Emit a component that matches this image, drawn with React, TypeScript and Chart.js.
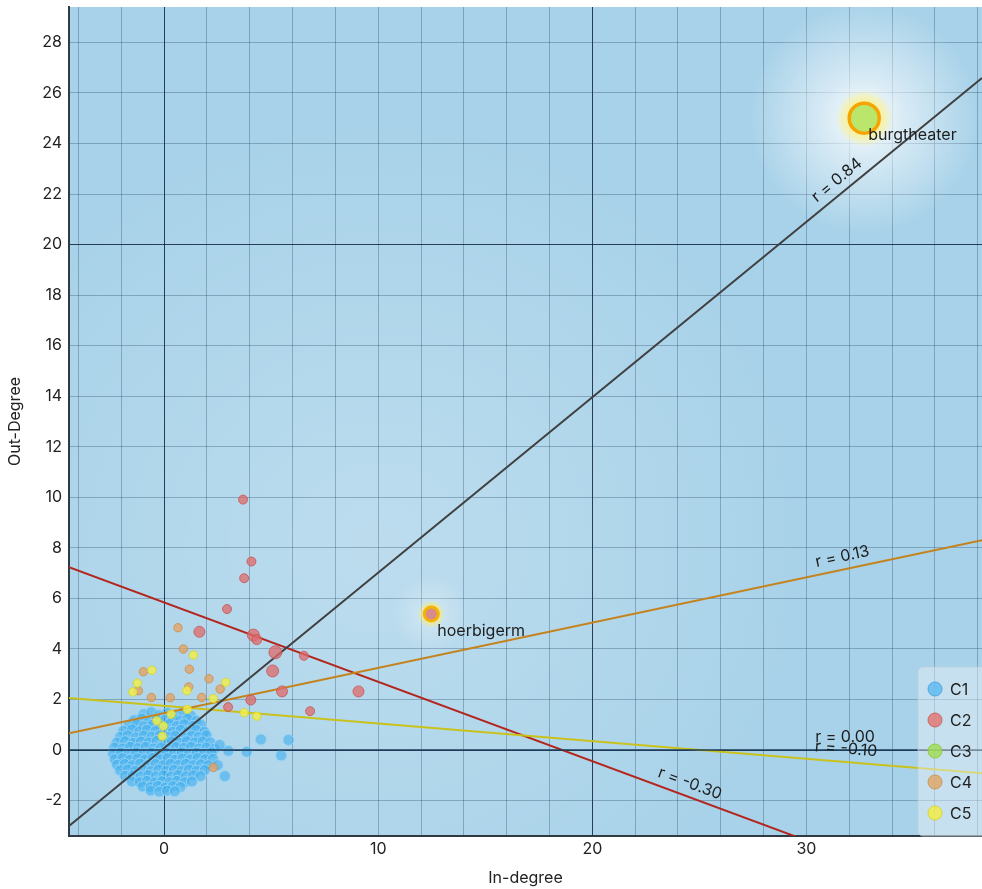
import { useEffect, useRef } from 'react';
import { Chart, registerables } from 'chart.js';

Chart.register(...registerables);

const FONT = "Inter, 'Liberation Sans', Arial, sans-serif";

// axis ranges and ticks
const xRange = [-4.44, 38.2];
const yRange = [-3.4, 29.4];
const xGridValues = [-4, -2, 0, 2, 4, 6, 8, 10, 12, 14, 16, 18, 20, 22, 24, 26, 28, 30, 32, 34, 36, 38];
const xTickLabels = [0, 10, 20, 30];
const yGridValues = [-2, 0, 2, 4, 6, 8, 10, 12, 14, 16, 18, 20, 22, 24, 26, 28];
const majorGrid = [0, 20];

// categories
const categories = ['C1', 'C2', 'C3', 'C4', 'C5'];

// C1: dense cluster around the origin plus a few outliers
const c1Points: [number, number][] = [
  [-0.95, 1.42], [-0.6, 1.5], [-0.25, 1.38], [0.15, 1.47], [0.5, 1.4], [0.9, 1.52], [1.25, 1.36],
  [-1.4, 1.18], [-1.05, 1.25], [-0.7, 1.15], [-0.35, 1.22], [0.05, 1.2], [0.4, 1.27], [0.75, 1.17], [1.1, 1.24], [1.5, 1.15],
  [-1.65, 0.98], [-1.3, 1.02], [-0.95, 0.94], [-0.55, 1.0], [-0.2, 0.97], [0.25, 1.03], [0.6, 0.95], [0.95, 1.02], [1.35, 0.96], [1.72, 1.0],
  [-1.9, 0.76], [-1.5, 0.82], [-1.15, 0.74], [-0.8, 0.8], [-0.4, 0.75], [0.05, 0.8], [0.4, 0.72], [0.78, 0.8], [1.12, 0.74], [1.5, 0.8], [1.88, 0.72],
  [-2.05, 0.52], [-1.7, 0.58], [-1.32, 0.5], [-0.95, 0.57], [-0.58, 0.53], [-0.2, 0.58], [0.18, 0.52], [0.52, 0.57], [0.9, 0.5], [1.28, 0.56], [1.62, 0.52], [1.98, 0.58],
  [-2.2, 0.3], [-1.82, 0.35], [-1.45, 0.28], [-1.08, 0.34], [-0.72, 0.3], [-0.35, 0.36], [0.0, 0.3], [0.36, 0.34], [0.72, 0.28], [1.06, 0.35], [1.42, 0.3], [1.8, 0.34], [2.15, 0.3],
  [-2.32, 0.1], [-1.95, 0.06], [-1.58, 0.13], [-1.22, 0.08], [-0.86, 0.12], [-0.5, 0.06], [-0.14, 0.1], [0.22, 0.05], [0.56, 0.12], [0.92, 0.08], [1.26, 0.13], [1.62, 0.06], [1.98, 0.1], [2.35, 0.05],
  [-2.38, -0.14], [-2.02, -0.1], [-1.66, -0.15], [-1.3, -0.09], [-0.95, -0.14], [-0.6, -0.1], [-0.24, -0.15], [0.12, -0.1], [0.46, -0.14], [0.82, -0.09], [1.16, -0.15], [1.52, -0.1], [1.86, -0.14], [2.22, -0.09],
  [-2.3, -0.36], [-1.94, -0.32], [-1.6, -0.38], [-1.24, -0.33], [-0.88, -0.37], [-0.54, -0.31], [-0.18, -0.36], [0.16, -0.32], [0.52, -0.38], [0.86, -0.33], [1.22, -0.37], [1.56, -0.32], [1.92, -0.36], [2.28, -0.34],
  [-2.2, -0.58], [-1.84, -0.55], [-1.48, -0.6], [-1.12, -0.54], [-0.76, -0.59], [-0.4, -0.55], [-0.04, -0.6], [0.3, -0.55], [0.66, -0.59], [1.02, -0.54], [1.36, -0.6], [1.72, -0.56], [2.06, -0.6],
  [-2.05, -0.8], [-1.7, -0.77], [-1.35, -0.82], [-0.98, -0.78], [-0.62, -0.83], [-0.26, -0.77], [0.1, -0.82], [0.46, -0.78], [0.8, -0.83], [1.16, -0.77], [1.52, -0.82], [1.9, -0.79],
  [-1.82, -1.02], [-1.46, -1.0], [-1.1, -1.05], [-0.74, -0.99], [-0.38, -1.04], [-0.02, -1.0], [0.32, -1.05], [0.66, -0.99], [1.02, -1.04], [1.36, -1.0], [1.7, -1.03],
  [-1.5, -1.24], [-1.14, -1.27], [-0.8, -1.22], [-0.44, -1.28], [-0.1, -1.23], [0.26, -1.27], [0.6, -1.22], [0.96, -1.27], [1.3, -1.24],
  [-1.0, -1.44], [-0.64, -1.47], [-0.3, -1.42], [0.06, -1.48], [0.4, -1.43], [0.76, -1.46],
  [-0.62, -1.6], [-0.22, -1.64], [0.14, -1.6], [0.5, -1.63],
  [4.52, 0.42], [5.81, 0.4], [3.0, -0.03], [3.86, -0.07], [5.47, -0.21], [2.84, -1.03], [2.6, 0.2], [2.5, -0.6],
];

// C2 (last one is "hoerbigerm")
const c2Points: [number, number][] = [
  [3.69, 9.91], [4.08, 7.46], [3.74, 6.8], [2.94, 5.58], [1.65, 4.68], [4.17, 4.55], [4.33, 4.37],
  [5.2, 3.87], [6.53, 3.73], [5.07, 3.13], [5.51, 2.32], [9.08, 2.32], [4.05, 1.98], [2.99, 1.7], [6.82, 1.54],
  [12.48, 5.38],
];
const c2Radius = [4.5, 4.5, 4.5, 4.5, 5.5, 6, 5, 6.5, 4.5, 6, 5.5, 5.5, 5, 4.5, 4.5, 7];

// C3 ("burgtheater")
const c3Points: [number, number][] = [[32.7, 25.0]];

// C4
const c4Points: [number, number][] = [
  [0.65, 4.84], [0.9, 4.0], [1.18, 3.2], [-0.97, 3.1], [2.1, 2.82], [1.15, 2.5], [2.62, 2.41],
  [-1.2, 2.35], [-0.59, 2.08], [0.29, 2.07], [1.76, 2.08], [2.3, -0.69],
];

// C5
const c5Points: [number, number][] = [
  [1.37, 3.76], [-0.57, 3.16], [-1.25, 2.65], [-1.46, 2.3], [2.88, 2.68], [1.06, 2.35], [2.3, 2.04],
  [1.09, 1.61], [0.33, 1.42], [3.74, 1.48], [4.33, 1.34], [-0.34, 1.16], [-0.03, 0.95], [-0.08, 0.55],
];

// named points
const namedLabels = ['burgtheater', 'hoerbigerm'];
const namedPoints: [number, number][] = [[32.7, 25.0], [12.48, 5.38]];

// regression lines
const regLabels = ['r = 0.84', 'r = 0.13', 'r = 0.00', 'r = -0.10', 'r = -0.30'];
const regSlopes = [0.694, 0.179, 0, -0.0697, -0.314];
const regIntercepts = [0.08, 1.46, 0, 1.75, 5.84];
const regColors = ['#3f3f3f', '#c4831d', '#1c3b5a', '#c9c21c', '#b3261e'];
const regWidths = [2, 2, 1.5, 2, 2];

const catFill = ['rgba(68,176,238,0.62)', 'rgba(222,105,105,0.75)', '#b9e66b', 'rgba(228,160,95,0.75)', 'rgba(242,240,70,0.8)'];
const catBorder = ['rgba(150,212,248,0.9)', 'rgba(200,85,85,0.8)', '#f6a500', 'rgba(205,140,70,0.8)', 'rgba(215,210,40,0.85)'];
const legendFill = ['rgba(90,185,240,0.8)', 'rgba(225,115,110,0.8)', 'rgba(160,220,80,0.8)', 'rgba(225,165,100,0.8)', 'rgba(240,236,70,0.85)'];
const legendBorder = ['rgba(70,165,225,0.9)', 'rgba(205,95,90,0.9)', 'rgba(140,200,60,0.9)', 'rgba(205,145,80,0.9)', 'rgba(215,210,40,0.9)'];

const toXY = (pts: [number, number][]) => pts.map(([x, y]) => ({ x, y }));

function labelAnchor(m: number, b: number) {
  let lo = xRange[0];
  let hi = xRange[1];
  if (m !== 0) {
    const xa = (yRange[0] - b) / m;
    const xb = (yRange[1] - b) / m;
    lo = Math.max(lo, Math.min(xa, xb));
    hi = Math.min(hi, Math.max(xa, xb));
  }
  return lo + 0.85 * (hi - lo);
}

const zeroPad = (s: any) => {
  s.paddingTop = 0;
  s.paddingBottom = 0;
  s.paddingLeft = 0;
  s.paddingRight = 0;
};

const decorPlugin = {
  id: 'decor',
  beforeDraw(chart: any) {
    const { ctx, chartArea: a, scales } = chart;
    const x = scales.x, y = scales.y;
    ctx.save();
    ctx.fillStyle = '#a8d2e9';
    ctx.fillRect(a.left, a.top, a.right - a.left, a.bottom - a.top);
    const cx = x.getPixelForValue(10), cy = y.getPixelForValue(8);
    const g = ctx.createRadialGradient(cx, cy, 0, cx, cy, 430);
    g.addColorStop(0, 'rgba(255,255,255,0.24)');
    g.addColorStop(1, 'rgba(255,255,255,0)');
    ctx.fillStyle = g;
    ctx.fillRect(a.left, a.top, a.right - a.left, a.bottom - a.top);
    ctx.restore();
  },
  beforeDatasetsDraw(chart: any) {
    const { ctx, chartArea: a, scales } = chart;
    const x = scales.x, y = scales.y;
    ctx.save();
    ctx.beginPath();
    ctx.rect(a.left, a.top, a.right - a.left, a.bottom - a.top);
    ctx.clip();
    const bx = x.getPixelForValue(namedPoints[0][0]);
    const by = y.getPixelForValue(namedPoints[0][1]);
    let g = ctx.createRadialGradient(bx, by, 0, bx, by, 115);
    g.addColorStop(0, 'rgba(255,255,255,0.95)');
    g.addColorStop(0.35, 'rgba(255,255,255,0.55)');
    g.addColorStop(1, 'rgba(255,255,255,0)');
    ctx.fillStyle = g;
    ctx.fillRect(bx - 120, by - 120, 240, 240);
    g = ctx.createRadialGradient(bx, by, 0, bx, by, 29);
    g.addColorStop(0, 'rgba(255,240,110,0.8)');
    g.addColorStop(0.65, 'rgba(255,240,110,0.55)');
    g.addColorStop(1, 'rgba(255,240,110,0)');
    ctx.fillStyle = g;
    ctx.beginPath();
    ctx.arc(bx, by, 29, 0, Math.PI * 2);
    ctx.fill();
    const hx = x.getPixelForValue(namedPoints[1][0]);
    const hy = y.getPixelForValue(namedPoints[1][1]);
    g = ctx.createRadialGradient(hx, hy, 0, hx, hy, 40);
    g.addColorStop(0, 'rgba(255,255,255,0.35)');
    g.addColorStop(1, 'rgba(255,255,255,0)');
    ctx.fillStyle = g;
    ctx.beginPath();
    ctx.arc(hx, hy, 40, 0, Math.PI * 2);
    ctx.fill();
    g = ctx.createRadialGradient(hx, hy, 0, hx, hy, 14);
    g.addColorStop(0, 'rgba(255,235,100,0.7)');
    g.addColorStop(0.7, 'rgba(255,235,100,0.5)');
    g.addColorStop(1, 'rgba(255,235,100,0)');
    ctx.fillStyle = g;
    ctx.beginPath();
    ctx.arc(hx, hy, 14, 0, Math.PI * 2);
    ctx.fill();
    ctx.restore();
  },
  afterDatasetsDraw(chart: any) {
    const { ctx, chartArea: a, scales } = chart;
    const x = scales.x, y = scales.y;
    ctx.save();
    // legend
    const lw = 80, lh = 169;
    const lx = a.right - 64, ly = a.bottom - lh;
    ctx.beginPath();
    ctx.roundRect(lx, ly, lw, lh, 5);
    ctx.fillStyle = 'rgba(235,242,248,0.45)';
    ctx.fill();
    ctx.strokeStyle = 'rgba(190,205,215,0.7)';
    ctx.lineWidth = 1;
    ctx.stroke();
    ctx.font = `16px ${FONT}`;
    ctx.textBaseline = 'middle';
    ctx.textAlign = 'left';
    categories.forEach((c, i) => {
      const cy = ly + 22 + i * 31;
      ctx.beginPath();
      ctx.arc(lx + 17, cy, 7, 0, Math.PI * 2);
      ctx.fillStyle = legendFill[i];
      ctx.fill();
      ctx.strokeStyle = legendBorder[i];
      ctx.lineWidth = 1;
      ctx.stroke();
      ctx.fillStyle = '#222';
      ctx.fillText(c, lx + 32, cy + 1);
    });
    // regression labels
    ctx.fillStyle = '#1e1e1e';
    ctx.font = `16px ${FONT}`;
    ctx.textAlign = 'center';
    ctx.textBaseline = 'middle';
    regLabels.forEach((lab, i) => {
      const m = regSlopes[i], b = regIntercepts[i];
      const ax = labelAnchor(m, b);
      const px = x.getPixelForValue(ax), py = y.getPixelForValue(m * ax + b);
      const qx = x.getPixelForValue(ax + 1), qy = y.getPixelForValue(m * (ax + 1) + b);
      const ang = Math.atan2(qy - py, qx - px);
      ctx.save();
      ctx.translate(px, py);
      ctx.rotate(ang);
      ctx.fillText(lab, 0, -13);
      ctx.restore();
    });
    // named points
    ctx.textAlign = 'left';
    namedLabels.forEach((lab, i) => {
      const px = x.getPixelForValue(namedPoints[i][0]);
      const py = y.getPixelForValue(namedPoints[i][1]);
      ctx.fillText(lab, px + (i === 0 ? 4 : 6), py + 17);
    });
    ctx.restore();
  },
};

export default function App() {
  const ref = useRef<HTMLCanvasElement | null>(null);
  useEffect(() => {
    if (!ref.current) return;
    const lineSets = regLabels.map((lab, i) => ({
      type: 'scatter' as const,
      label: lab,
      data: [
        { x: xRange[0], y: regSlopes[i] * xRange[0] + regIntercepts[i] },
        { x: xRange[1], y: regSlopes[i] * xRange[1] + regIntercepts[i] },
      ],
      showLine: true,
      borderColor: regColors[i],
      borderWidth: regWidths[i],
      pointRadius: 0,
      tension: 0,
    }));
    const hIdx = c2Points.length - 1;
    const chart = new Chart(ref.current, {
      type: 'scatter',
      data: {
        datasets: [
          {
            label: 'C3',
            data: toXY(c3Points),
            backgroundColor: catFill[2],
            borderColor: catBorder[2],
            borderWidth: 3.5,
            pointRadius: 15,
          },
          {
            label: 'C2',
            data: toXY(c2Points),
            backgroundColor: c2Points.map((_, i) => (i === hIdx ? '#d98a8c' : catFill[1])),
            borderColor: c2Points.map((_, i) => (i === hIdx ? '#f5b300' : catBorder[1])),
            borderWidth: c2Points.map((_, i) => (i === hIdx ? 3 : 1)),
            pointRadius: c2Radius,
          },
          {
            label: 'C5',
            data: toXY(c5Points),
            backgroundColor: catFill[4],
            borderColor: catBorder[4],
            borderWidth: 1,
            pointRadius: 4.2,
          },
          {
            label: 'C4',
            data: toXY(c4Points),
            backgroundColor: catFill[3],
            borderColor: catBorder[3],
            borderWidth: 1,
            pointRadius: 4.2,
          },
          ...lineSets,
          {
            label: 'C1',
            data: toXY(c1Points),
            backgroundColor: catFill[0],
            borderColor: catBorder[0],
            borderWidth: 1,
            pointRadius: 5.5,
          },
        ] as any,
      },
      options: {
        animation: false,
        responsive: true,
        maintainAspectRatio: false,
        events: [],
        layout: { autoPadding: false, padding: { top: 7, right: 0, left: 0, bottom: 0 } },
        plugins: { legend: { display: false }, tooltip: { enabled: false } },
        scales: {
          x: {
            type: 'linear',
            min: xRange[0],
            max: xRange[1],
            afterBuildTicks: (s: any) => {
              s.ticks = xGridValues.map((v) => ({ value: v }));
            },
            afterFit: (s: any) => {
              s.height = 53;
              zeroPad(s);
            },
            ticks: {
              autoSkip: false,
              maxRotation: 0,
              padding: 4,
              color: '#222',
              font: { family: FONT, size: 16 },
              callback: (v: any) => (xTickLabels.includes(Number(v)) ? String(v) : ''),
            },
            grid: {
              drawTicks: false,
              color: (c: any) => (majorGrid.includes(c.tick?.value) ? 'rgba(15,35,60,0.85)' : 'rgba(25,55,85,0.3)'),
              lineWidth: 1,
            },
            border: { display: true, color: '#2f3a42', width: 2 },
            title: {
              display: true,
              text: 'In-degree',
              color: '#222',
              font: { family: FONT, size: 16 },
              padding: { top: 4, bottom: 1.5 },
            },
          },
          y: {
            type: 'linear',
            min: yRange[0],
            max: yRange[1],
            afterBuildTicks: (s: any) => {
              s.ticks = yGridValues.map((v) => ({ value: v }));
            },
            afterFit: (s: any) => {
              s.width = 69;
              zeroPad(s);
            },
            ticks: {
              autoSkip: false,
              padding: 7,
              color: '#222',
              font: { family: FONT, size: 16 },
              callback: (v: any) => String(v),
            },
            grid: {
              drawTicks: false,
              color: (c: any) => (majorGrid.includes(c.tick?.value) ? 'rgba(15,35,60,0.85)' : 'rgba(25,55,85,0.3)'),
              lineWidth: 1,
            },
            border: { display: true, color: '#2f3a42', width: 2 },
            title: {
              display: true,
              text: 'Out-Degree',
              color: '#222',
              font: { family: FONT, size: 16 },
              padding: { top: 5.4, bottom: 4 },
            },
          },
        },
      },
      plugins: [decorPlugin],
    });
    return () => chart.destroy();
  }, []);
  return (
    <div style={{ position: 'fixed', left: 0, top: 0, width: 982, height: 889, background: '#fff' }}>
      <canvas ref={ref} />
    </div>
  );
}
